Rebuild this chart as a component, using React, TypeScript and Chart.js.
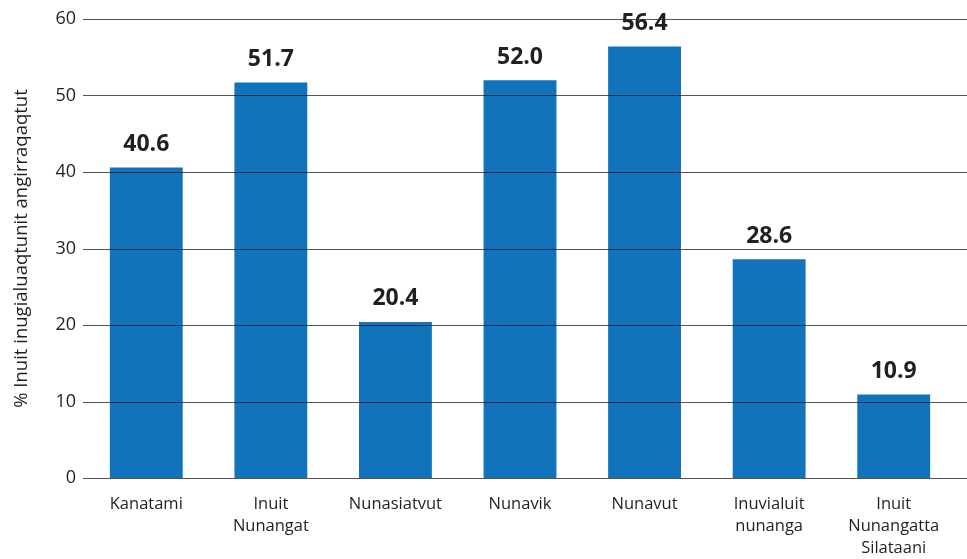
import React, { useEffect, useRef } from "react";
import { Chart, registerables } from "chart.js";

Chart.register(...registerables);

const categories: string[][] = [
  ["Kanatami"],
  ["Inuit", "Nunangat"],
  ["Nunasiatvut"],
  ["Nunavik"],
  ["Nunavut"],
  ["Inuvialuit", "nunanga"],
  ["Inuit", "Nunangatta", "Silataani"],
];
const values: number[] = [40.6, 51.7, 20.4, 52.0, 56.4, 28.6, 10.9];
const yTicks: number[] = [0, 10, 20, 30, 40, 50, 60];
const yTitle = "% Inuit inugialuaqtunit angirraqaqtut";

const FONT = "'Open Sans', 'Noto Sans', sans-serif";
const TEXT = "#231f20";

const gridOverlay = {
  id: "gridOverlay",
  afterDatasetsDraw(chart: any) {
    const ctx = chart.ctx;
    const y = chart.scales.y;
    const left = chart.chartArea.left - 1;
    const right = chart.width;
    ctx.save();
    ctx.strokeStyle = "rgba(20,20,20,0.72)";
    ctx.lineWidth = 1.2;
    yTicks.forEach((v) => {
      const py = Math.round(y.getPixelForValue(v)) + 0.5;
      ctx.beginPath();
      ctx.moveTo(left, py);
      ctx.lineTo(right, py);
      ctx.stroke();
    });
    ctx.restore();
  },
};

const valueLabels = {
  id: "valueLabels",
  afterDraw(chart: any) {
    const ctx = chart.ctx;
    const meta = chart.getDatasetMeta(0);
    ctx.save();
    ctx.font = `bold 23px ${FONT}`;
    ctx.fillStyle = TEXT;
    ctx.textAlign = "center";
    ctx.textBaseline = "middle";
    meta.data.forEach((bar: any, i: number) => {
      ctx.fillText(values[i].toFixed(1), bar.x, bar.y - 23);
    });
    ctx.restore();
  },
};

export default function App() {
  const ref = useRef<HTMLCanvasElement | null>(null);
  useEffect(() => {
    if (!ref.current) return;
    const chart = new Chart(ref.current, {
      type: "bar",
      data: {
        labels: categories,
        datasets: [
          {
            data: values,
            backgroundColor: "#1173bb",
            borderWidth: 0,
            categoryPercentage: 1,
            barPercentage: 0.585,
          },
        ],
      },
      options: {
        animation: false,
        responsive: true,
        maintainAspectRatio: false,
        layout: { padding: { top: 19, right: 11, left: 0, bottom: 0 } },
        plugins: {
          legend: { display: false },
          tooltip: { enabled: false },
        },
        scales: {
          x: {
            grid: { display: false },
            border: { display: false },
            ticks: {
              color: TEXT,
              font: { family: FONT, size: 16.5, lineHeight: 1.35 },
              padding: 7,
              maxRotation: 0,
            },
            afterFit(scale: any) {
              scale.height = 81;
            },
          },
          y: {
            min: 0,
            max: 60,
            afterBuildTicks(scale: any) {
              scale.ticks = yTicks.map((v) => ({ value: v }));
            },
            grid: { display: false, drawTicks: false },
            border: { display: false },
            ticks: {
              color: TEXT,
              font: { family: FONT, size: 18 },
              padding: 8,
            },
            title: {
              display: true,
              text: yTitle,
              color: TEXT,
              font: { family: FONT, size: 18.5 },
              padding: { top: 11, bottom: 8 },
            },
            afterFit(scale: any) {
              scale.width = 84;
            },
          },
        },
      },
      plugins: [gridOverlay, valueLabels],
    });
    return () => chart.destroy();
  }, []);
  return (
    <div style={{ position: "fixed", left: 0, top: 0, width: 967, height: 559, background: "#fff" }}>
      <canvas ref={ref} />
    </div>
  );
}
